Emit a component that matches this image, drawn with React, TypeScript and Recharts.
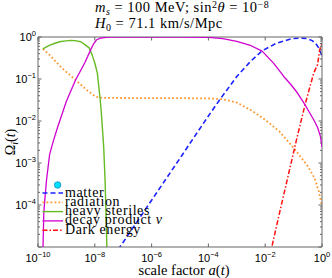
import {
  ComposedChart,
  Customized,
  Legend,
  Line,
  Scatter,
  XAxis,
  YAxis,
} from "recharts";

// scale factor a(t) and Omega_i(t)
const matterA = [3.2e-8, 1e-7, 1e-6, 1e-5, 1e-4, 2.5e-4, 1e-3, 3e-3, 7.8e-3, 0.026, 0.05, 0.089, 0.18, 0.3, 0.45, 0.59, 0.78, 1];
const matterOmega = [4.2e-6, 1.3e-5, 1.3e-4, 1.3e-3, 0.0132, 0.032, 0.115, 0.26, 0.47, 0.72, 0.82, 0.92, 0.94, 0.92, 0.82, 0.72, 0.54, 0.35];

const radA = [1.48e-10, 2.5e-10, 7.1e-10, 2.1e-9, 5e-9, 1e-8, 1.4e-8, 2e-8, 1e-6, 1e-5, 1e-4, 3.2e-4, 1e-3, 3.2e-3, 1e-2, 3.2e-2, 0.1, 0.32, 0.56, 0.79, 1];
const radOmega = [0.52, 0.38, 0.18, 0.095, 0.056, 0.039, 0.036, 0.0355, 0.035, 0.035, 0.0345, 0.033, 0.0275, 0.018, 0.0107, 5.6e-3, 2.3e-3, 8.3e-4, 4.2e-4, 2e-4, 9.3e-5];

const sterileA = [1.48e-10, 2.5e-10, 4.2e-10, 6.3e-10, 1e-9, 1.4e-9, 2e-9, 3.2e-9, 4.5e-9, 6.3e-9, 8e-9, 1e-8, 1.23e-8, 1.55e-8, 1.7e-8, 2.05e-8, 2.3e-8, 2.5e-8, 2.66e-8, 2.8e-8];
const sterileOmega = [0.52, 0.63, 0.72, 0.78, 0.81, 0.83, 0.82, 0.77, 0.66, 0.55, 0.38, 0.24, 0.138, 0.032, 0.0155, 0.0025, 4e-4, 5e-5, 1e-5, 1e-6];

const decayA = [1.5e-10, 1.6e-10, 1.75e-10, 2e-10, 2.57e-10, 3.5e-10, 5e-10, 1e-9, 2.1e-9, 4.4e-9, 7.2e-9, 9e-9, 1.15e-8, 1.6e-8, 2.5e-8, 4e-8, 1e-6, 1e-5, 1e-4, 3.2e-4, 1e-3, 3.2e-3, 7.8e-3, 0.02, 0.045, 0.08, 0.135, 0.23, 0.35, 0.51, 0.7, 0.88, 1];
const decayOmega = [1e-5, 6.5e-5, 1.4e-4, 4e-4, 1.6e-3, 3.4e-3, 7.4e-3, 0.0295, 0.095, 0.24, 0.5, 0.68, 0.86, 0.945, 0.98, 0.99, 0.995, 0.995, 0.98, 0.91, 0.79, 0.62, 0.46, 0.235, 0.115, 0.074, 0.047, 0.027, 0.0166, 0.0107, 7e-3, 4.3e-3, 2.4e-3];

const lambdaA = [0.01, 0.0174, 0.0316, 0.1, 0.135, 0.263, 0.51, 0.7, 0.83, 1];
const lambdaOmega = [2e-6, 1.05e-5, 6.3e-5, 1.8e-3, 4.3e-3, 0.027, 0.138, 0.22, 0.5, 0.7];

const markerA = [4.9e-10];
const markerOmega = [3e-4];

const xTicks = [1e-10, 1e-8, 1e-6, 1e-4, 1e-2, 1];
const xTickExp = ["−10", "−8", "−6", "−4", "−2", "0"];
const yTicks = [1e-5, 1e-4, 1e-3, 1e-2, 1e-1, 1];
const yTickExp = ["", "−4", "−3", "−2", "−1", "0"];
const minorSteps = [2, 3, 4, 5, 6, 7, 8, 9];
const yMinorTicks = yTicks.slice(0, -1).flatMap((d) => minorSteps.map((m) => d * m));

const legendLabels = ["matter", "radiation", "heavy steriles", "decay product ", "Dark energy"];

const serif = "'Liberation Serif', 'Times New Roman', serif";
const sans = "'Liberation Sans', Arial, sans-serif";
const axisColor = "#666";
const decayColor = "#d000d0";

const legendItems = [
  { color: "#1a22ff", dash: "5 3", width: 1.6 },
  { color: "#ff9a33", dash: "1.8 2.2", width: 1.8 },
  { color: "#66bb22", dash: undefined, width: 1.4 },
  { color: decayColor, dash: undefined, width: 1.3 },
  { color: "#ff1111", dash: "5 2 1.5 2", width: 1.5 },
];

const lines = [
  { key: "matter", a: matterA, omega: matterOmega, ...legendItems[0] },
  { key: "radiation", a: radA, omega: radOmega, ...legendItems[1] },
  { key: "sterile", a: sterileA, omega: sterileOmega, ...legendItems[2] },
  { key: "lambda", a: lambdaA, omega: lambdaOmega, ...legendItems[4] },
];

const decayRows = decayA.map((a, i) => ({ a, decay: decayOmega[i] }));
const markerRows = markerA.map((a, i) => ({ a, marker: markerOmega[i] }));

const XTickBottom = ({ x, y, payload }: any) => {
  const i = xTicks.indexOf(payload.value);
  return (
    <g>
      <line x1={x} y1={y} x2={x} y2={y - 3.5} stroke={axisColor} />
      <text x={x} y={y + 15} textAnchor="middle" fontFamily={sans} fontSize={11} fill="#000">
        10<tspan dy={-5} fontSize={7.5}>{xTickExp[i]}</tspan>
      </text>
    </g>
  );
};

const XTickTop = ({ x, y }: any) => (
  <line x1={x} y1={y} x2={x} y2={y + 3.5} stroke={axisColor} />
);

const YTickLeft = ({ x, y, payload }: any) => {
  const i = yTicks.indexOf(payload.value);
  const len = i >= 0 ? 3.5 : 2;
  return (
    <g>
      <line x1={x} y1={y} x2={x + len} y2={y} stroke={axisColor} />
      {i >= 0 && yTickExp[i] !== "" && (
        <text x={x - 2} y={y + 4} textAnchor="end" fontFamily={sans} fontSize={11} fill="#000">
          10<tspan dy={-5} fontSize={7.5}>{yTickExp[i]}</tspan>
        </text>
      )}
    </g>
  );
};

const YTickRight = ({ x, y, payload }: any) => {
  const len = yTicks.indexOf(payload.value) >= 0 ? 3.5 : 2;
  return <line x1={x} y1={y} x2={x - len} y2={y} stroke={axisColor} />;
};

const LegendBox = () => (
  <svg width={165} height={52} style={{ display: "block" }}>
    {legendItems.map((s, i) => {
      const cy = 7 + i * 9.3;
      return (
        <g key={i}>
          <line x1={2.5} x2={23} y1={cy} y2={cy} stroke={s.color} strokeWidth={s.width} strokeDasharray={s.dash} />
          <text x={25} y={cy + 3.5} fontFamily={serif} fontSize={14} letterSpacing={0.6} fill="#000">
            {legendLabels[i]}
            {i === 3 && <tspan fontStyle="italic">ν</tspan>}
          </text>
        </g>
      );
    })}
  </svg>
);

const Annotations = () => (
  <g fontFamily={serif} fill="#000">
    <text x={95} y={12} fontSize={14.5} letterSpacing={0.5}>
      <tspan fontStyle="italic">m</tspan>
      <tspan fontStyle="italic" fontSize={10} dy={2.5}>s</tspan>
      <tspan dy={-2.5}>{" = 100 MeV; sin"}</tspan>
      <tspan fontSize={10} dy={-4}>2</tspan>
      <tspan fontStyle="italic" dy={4}>θ</tspan>
      <tspan>{" = 10"}</tspan>
      <tspan fontSize={10} dy={-4}>−8</tspan>
    </text>
    <text x={95} y={28.3} fontSize={14.5} letterSpacing={0.5}>
      <tspan fontStyle="italic">H</tspan>
      <tspan fontSize={10} dy={2.5}>0</tspan>
      <tspan dy={-2.5}>{" = 71.1 km/s/Mpc"}</tspan>
    </text>
    <text x={184} y={275} fontSize={14.5} textAnchor="middle">
      {"scale factor "}
      <tspan fontStyle="italic">a</tspan>
      <tspan>(</tspan>
      <tspan fontStyle="italic">t</tspan>
      <tspan>)</tspan>
    </text>
    <text transform="translate(15,142) rotate(-90)" fontSize={14} textAnchor="middle">
      Ω<tspan fontStyle="italic" fontSize={10} dy={2.5}>i</tspan>
      <tspan dy={-2.5}>(</tspan>
      <tspan fontStyle="italic">t</tspan>
      <tspan>)</tspan>
    </text>
  </g>
);

export default function App() {
  return (
    <div style={{ position: "absolute", left: 0, top: 0, width: 332, height: 278, background: "#fff" }}>
      <ComposedChart width={332} height={278} margin={{ top: 37, right: 10, left: 8, bottom: 11 }}>
        <XAxis
          xAxisId="x"
          dataKey="a"
          type="number"
          scale="log"
          domain={[1e-10, 1]}
          allowDataOverflow
          ticks={xTicks}
          interval={0}
          height={20}
          tickSize={0}
          tickMargin={0}
          tickLine={false}
          tick={<XTickBottom />}
          axisLine={{ stroke: axisColor }}
        />
        <XAxis
          xAxisId="xt"
          dataKey="a"
          type="number"
          scale="log"
          orientation="top"
          mirror
          domain={[1e-10, 1]}
          allowDataOverflow
          ticks={xTicks}
          interval={0}
          tickSize={0}
          tickMargin={0}
          tickLine={false}
          tick={<XTickTop />}
          axisLine={{ stroke: axisColor }}
        />
        <YAxis
          yAxisId="y"
          type="number"
          scale="log"
          domain={[1e-5, 1]}
          allowDataOverflow
          ticks={[...yTicks, ...yMinorTicks]}
          interval={0}
          width={30}
          tickSize={0}
          tickMargin={0}
          tickLine={false}
          tick={<YTickLeft />}
          axisLine={{ stroke: axisColor }}
        />
        <YAxis
          yAxisId="yr"
          type="number"
          scale="log"
          orientation="right"
          mirror
          domain={[1e-5, 1]}
          allowDataOverflow
          ticks={[...yTicks, ...yMinorTicks]}
          interval={0}
          tickSize={0}
          tickMargin={0}
          tickLine={false}
          tick={<YTickRight />}
          axisLine={{ stroke: axisColor }}
        />
        {lines.slice(0, 3).map((s) => (
          <Line
            key={s.key}
            xAxisId="x"
            yAxisId="y"
            data={s.a.map((a, i) => ({ a, [s.key]: s.omega[i] }))}
            dataKey={s.key}
            type="linear"
            stroke={s.color}
            strokeWidth={s.width}
            strokeDasharray={s.dash}
            strokeLinejoin="round"
            dot={false}
            activeDot={false}
            isAnimationActive={false}
          />
        ))}
        {/* decay product nu, drawn as a joined scatter line */}
        <Scatter
          xAxisId="x"
          yAxisId="y"
          data={decayRows}
          dataKey="decay"
          fill={decayColor}
          line={{ stroke: decayColor, strokeWidth: 1.3, strokeLinejoin: "round" }}
          lineType="joint"
          shape={() => <g />}
          isAnimationActive={false}
        />
        {lines.slice(3).map((s) => (
          <Line
            key={s.key}
            xAxisId="x"
            yAxisId="y"
            data={s.a.map((a, i) => ({ a, [s.key]: s.omega[i] }))}
            dataKey={s.key}
            type="linear"
            stroke={s.color}
            strokeWidth={s.width}
            strokeDasharray={s.dash}
            strokeLinejoin="round"
            dot={false}
            activeDot={false}
            isAnimationActive={false}
          />
        ))}
        <Scatter
          xAxisId="x"
          yAxisId="y"
          data={markerRows}
          dataKey="marker"
          isAnimationActive={false}
          shape={(p: any) => <circle cx={p.cx} cy={p.cy} r={3.3} fill="#00e1ff" stroke="#0b6fb0" strokeWidth={0.6} />}
        />
        <Legend
          layout="vertical"
          align="center"
          verticalAlign="middle"
          wrapperStyle={{ position: "absolute", left: 40, top: 186, width: 165, height: 52 }}
          content={() => <LegendBox />}
        />
        <Customized component={Annotations} />
      </ComposedChart>
    </div>
  );
}
